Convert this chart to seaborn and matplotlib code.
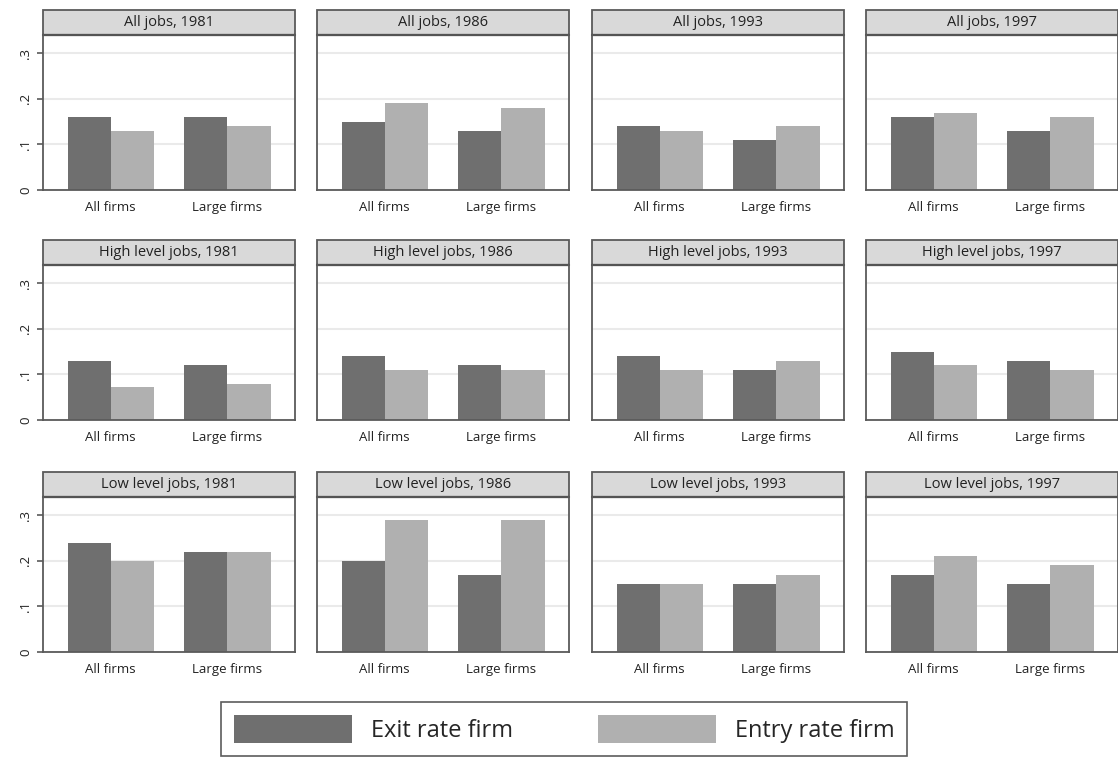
import seaborn as sns
import matplotlib.pyplot as plt
import pandas as pd
from matplotlib.patches import Rectangle, Patch

# data
job_levels = ["All jobs", "High level jobs", "Low level jobs"]
years = ["1981", "1986", "1993", "1997"]
firm_types = ["All firms", "Large firms"]
series = ["Exit rate firm", "Entry rate firm"]

# [level][year] -> (all exit, all entry, large exit, large entry)
all_jobs = [
    [0.16, 0.13, 0.16, 0.14],
    [0.15, 0.19, 0.13, 0.18],
    [0.14, 0.13, 0.11, 0.14],
    [0.16, 0.17, 0.13, 0.16],
]
high_jobs = [
    [0.13, 0.073, 0.12, 0.08],
    [0.14, 0.11, 0.12, 0.11],
    [0.14, 0.11, 0.11, 0.13],
    [0.15, 0.12, 0.13, 0.11],
]
low_jobs = [
    [0.24, 0.20, 0.22, 0.22],
    [0.20, 0.29, 0.17, 0.29],
    [0.15, 0.15, 0.15, 0.17],
    [0.17, 0.21, 0.15, 0.19],
]
level_values = [all_jobs, high_jobs, low_jobs]

rows = []
for li, lvl in enumerate(job_levels):
    for yi, yr in enumerate(years):
        v = level_values[li][yi]
        rows.append((lvl, yr, firm_types[0], series[0], v[0]))
        rows.append((lvl, yr, firm_types[0], series[1], v[1]))
        rows.append((lvl, yr, firm_types[1], series[0], v[2]))
        rows.append((lvl, yr, firm_types[1], series[1], v[3]))
df = pd.DataFrame(rows, columns=["level", "year", "firms", "series", "rate"])

sns.set_style("white")
plt.rcParams["font.family"] = ["Open Sans", "DejaVu Sans"]

W, H = 1118, 758
fig = plt.figure(figsize=(W / 100, H / 100), dpi=100)

col_left = [43, 317, 592, 866]
col_w = 252
row_top = [35, 265, 497]
row_h = 155
strip_h = 25
palette = {"Exit rate firm": "#6f6f6f", "Entry rate firm": "#b0b0b0"}
frame_c = "#5a5a5a"

for r, lvl in enumerate(job_levels):
    for c, yr in enumerate(years):
        ax = fig.add_axes([col_left[c] / W, 1 - (row_top[r] + row_h) / H,
                           col_w / W, row_h / H])
        sub = df[(df.level == lvl) & (df.year == yr)]
        sns.barplot(data=sub, x="firms", y="rate", hue="series",
                    order=firm_types, hue_order=series, palette=palette,
                    width=0.74, saturation=1, legend=False, linewidth=0,
                    ax=ax)
        ax.set_xlim(-0.58, 1.58)
        ax.set_ylim(0, 0.34)
        ax.set_yticks([0, 0.1, 0.2, 0.3])
        ax.grid(axis="y", color="#eaeaea", linewidth=1.5)
        ax.set_axisbelow(True)
        ax.set_xlabel("")
        ax.set_ylabel("")
        for s in ax.spines.values():
            s.set_color(frame_c)
            s.set_linewidth(1.3)
        ax.tick_params(axis="x", length=0, labelsize=9.5, pad=8, colors="#222222")
        if c == 0:
            ax.set_yticklabels(["0", ".1", ".2", ".3"], rotation=90, va="center")
            ax.tick_params(axis="y", length=4, width=1.2, labelsize=9.5,
                           pad=4, left=True, color=frame_c, labelcolor="#222222")
        else:
            ax.tick_params(axis="y", length=0, labelleft=False)
        sh = strip_h / row_h
        ax.add_patch(Rectangle((0, 1), 1, sh, transform=ax.transAxes,
                               facecolor="#d9d9d9", edgecolor=frame_c,
                               linewidth=1.3, clip_on=False))
        ax.plot([0, 1], [1, 1], transform=ax.transAxes, color="#222222",
                linewidth=1.6, clip_on=False)
        ax.text(0.5, 1 + sh / 2, f"{lvl}, {yr}", transform=ax.transAxes,
                ha="center", va="center", fontsize=10.5, color="#222222")

handles = [Patch(facecolor=palette[s], edgecolor="none", label=s) for s in series]
leg = fig.legend(handles=handles, loc="center", ncol=2,
                 bbox_to_anchor=(564 / W, 1 - 729 / H), fontsize=17,
                 frameon=True, fancybox=False, handlelength=5.0,
                 handleheight=1.4, columnspacing=3.6, handletextpad=0.8,
                 borderpad=0.55, borderaxespad=0)
leg.get_frame().set_edgecolor("#333333")
leg.get_frame().set_linewidth(1.2)

fig.savefig("out.png", dpi=100)
